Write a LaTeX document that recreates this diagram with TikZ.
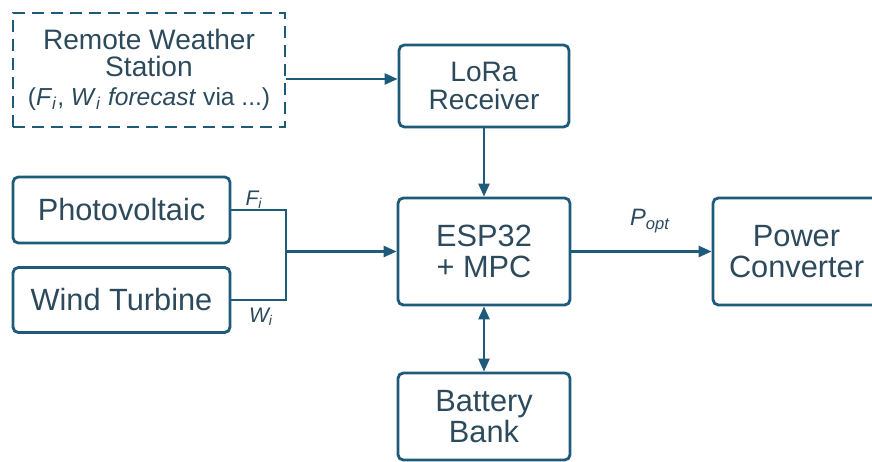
\documentclass[tikz,border=0pt]{standalone}
\usepackage{fontspec}
\setmainfont{Liberation Sans}
\usetikzlibrary{arrows.meta, positioning}
\definecolor{linecol}{HTML}{1E5B7B}
\definecolor{textcol}{HTML}{2D4A5D}

\begin{document}
\begin{tikzpicture}[
  x=0.02cm, y=-0.02cm,
  box/.style={draw=linecol, line width=1.6pt, rounded corners=3pt, align=center, text=textcol, inner sep=0pt, font=\fontsize{17.5}{18}\selectfont},
  smallbox/.style={box, font=\fontsize{16}{15.5}\selectfont},
  remotebox/.style={smallbox, rounded corners=0pt, line width=1.3pt, dash pattern=on 0.24cm off 0.14cm},
  lbl/.style={text=textcol, inner sep=0pt, font=\fontsize{12}{13}\selectfont\itshape},
  link/.style={draw=linecol, line width=1.4pt},
  arrow/.style={link, -{Triangle[length=2.6mm, width=2.2mm]}},
  biarrow/.style={link, {Triangle[length=2.6mm, width=2.2mm]}-{Triangle[length=2.6mm, width=2.2mm]}},
]
  \clip (0,0) rectangle (872,462);
  \node[remotebox, minimum width=5.44cm, minimum height=2.28cm] (weather) at (149,70) {Remote Weather\\Station\\[1pt]{\fontsize{14}{15}\selectfont(\textit{F}\textsubscript{\textit{i}}, \textit{W}\textsubscript{\textit{i}} \textit{forecast} via ...)}};
  \node[smallbox, minimum width=3.4cm, minimum height=1.64cm] (lora) at (484,86) {LoRa\\Receiver};
  \node[box, minimum width=3.44cm, minimum height=2.14cm] (esp) at (484,251.5) {ESP32\\+ MPC};
  \node[box, minimum width=3.34cm, minimum height=2.14cm] (power) at (796.5,251.5) {Power\\Converter};
  \node[box, minimum width=4.34cm, minimum height=1.32cm] (pv) at (121.5,210) {Photovoltaic};
  \node[box, minimum width=4.34cm, minimum height=1.3cm] (wind) at (121.5,300) {Wind Turbine};
  \node[box, minimum width=3.44cm, minimum height=1.74cm] (battery) at (484,416.5) {Battery\\Bank};
  \coordinate (merge) at (esp.west -| 286,0);

  \draw[arrow] ([yshift=-0.18cm]weather.east) -- ([yshift=-0.18cm]weather.east -| lora.west);
  \draw[arrow] (lora.south) -- (esp.north);
  \draw[link] (pv.east) -| (merge) |- (wind.east);
  \draw[arrow] (merge) -- (esp.west);
  \draw[arrow] (esp.east) -- (power.west);
  \draw[biarrow] (esp.south) -- (battery.north);

  \node[lbl] (fi) at (254,200) {F\textsubscript{i}};
  \node[lbl] (wi) at (261,317) {W\textsubscript{i}};
  \node[lbl, font=\fontsize{13.5}{14}\selectfont\itshape] (popt) at (650,221) {P\textsubscript{opt}};
\end{tikzpicture}
\end{document}
